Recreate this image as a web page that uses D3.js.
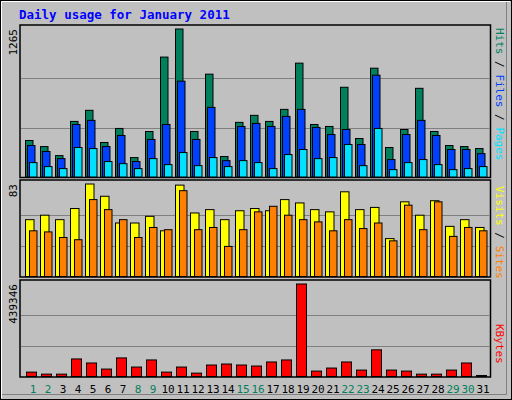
<!DOCTYPE html>
<html><head><meta charset="utf-8">
<script src="https://cdn.jsdelivr.net/npm/d3@7"></script>
<style>body{margin:0;background:#fff}svg{display:block}text{font-family:"DejaVu Sans Mono",monospace}</style>
</head><body><svg id="c" width="512" height="400"></svg>
<script>
const days = d3.range(1,32).map(String);
const weekend = ["1","2","8","9","15","16","22","23","29","30"];
const hits  = [312,260,183,475,570,295,415,166,389,1025,1265,389,879,175,467,527,475,578,973,449,432,767,329,930,252,406,758,389,269,260,243];
const files = [269,218,157,449,484,260,355,132,321,449,819,321,595,140,432,458,432,518,578,424,363,406,278,870,149,363,484,355,235,235,200];
const pages = [123,89,72,252,243,132,114,72,157,106,209,97,166,89,140,123,72,192,235,157,166,278,97,415,63,123,149,106,63,72,89];
const visits= [51,55,51,61,83,72,48,48,54,41,82,57,60,51,59,61,59,69,66,60,58,76,60,62,34,67,55,68,45,51,44];
const sites = [41,40,35,33,69,60,51,35,44,42,77,42,44,27,42,58,63,55,51,49,41,51,43,48,32,64,42,67,36,44,41];
const kbytes= [20844,11224,11224,83377,64136,35275,88187,44895,78567,20844,44895,16034,54516,59326,54516,49705,68946,78567,439346,25654,40085,68946,30465,126669,30465,25654,11224,11224,30465,64136,4810];
const axisMax = {top:1265, mid:83, bot:439346};

const svg = d3.select("#c");
svg.append("rect").attr("x",0).attr("y",0).attr("width",512).attr("height",400).attr("fill","#C0C0C0");
svg.append("rect").attr("x",0.5).attr("y",0.5).attr("width",511).attr("height",399).attr("fill","none").attr("stroke","#000");
svg.append("path").attr("d","M1.5,398V1.5H510").attr("stroke","#fff").attr("fill","none");
svg.append("path").attr("d","M506.5,2V394.5H2").attr("stroke","#808080").attr("fill","none");

svg.append("text").attr("x",19).attr("y",19).attr("fill","#0000FF").attr("font-weight","bold").attr("font-size",12.5).text("Daily usage for January 2011");

const x = d3.scaleBand().domain(days).range([20,485]).paddingInner(0);
const L = 20, R = 490.5;

function panel(top, bottom, max, label){
  svg.append("rect").attr("x",L).attr("y",top).attr("width",R-L).attr("height",bottom-top).attr("fill","#C0C0C0").attr("stroke","#000").attr("stroke-width",1.5);
  const y = d3.scaleLinear().domain([0,max]).range([bottom-0.5, top+4]);
  [1/3,2/3].forEach(f=>svg.append("line").attr("x1",L+1).attr("x2",R-1).attr("y1",Math.round(y(max*f))+0.5).attr("y2",Math.round(y(max*f))+0.5).attr("stroke","#808080"));
  svg.append("text").attr("transform",`translate(17,${top+4}) rotate(-90)`).attr("text-anchor","end").attr("font-size",11).attr("fill","#000").text(label);
  return y;
}
function bars(y, vals, off, w, color){
  svg.append("g").selectAll("rect").data(vals).join("rect")
    .attr("x",(d,i)=>x(days[i])+off).attr("width",w)
    .attr("y",d=>y(d)).attr("height",d=>Math.max(1,y(0)-y(d)))
    .attr("fill",color).attr("stroke","#000").attr("stroke-width",1);
}
const y1 = panel(25,177.5,axisMax.top,"1265");
bars(y1,hits,5.5,7.5,"#00805C");
bars(y1,files,7.5,7.5,"#0040FF");
bars(y1,pages,9.5,7.5,"#00E0FF");
const y2 = panel(180,277,axisMax.mid,"83");
bars(y2,visits,5.5,8.5,"#FFFF00");
bars(y2,sites,9.5,7.5,"#FF8000");
const y3 = panel(280,377,axisMax.bot,"439346");
bars(y3,kbytes,6.5,10,"#FF0000");

svg.append("g").selectAll("text").data(days).join("text")
  .attr("x",d=>x(d)+13).attr("y",393).attr("text-anchor","middle").attr("font-size",11)
  .attr("font-family","DejaVu Sans, sans-serif")
  .attr("fill",d=>weekend.includes(d)?"#00805C":"#000").text(d=>d);

function rlabel(yy, parts){
  const t = svg.append("text").attr("transform",`translate(496,${yy}) rotate(90)`).attr("font-size",11);
  parts.forEach(p=>t.append("tspan").attr("fill",p[1]).text(p[0]));
}
rlabel(28,[["Hits","#00805C"],[" / ","#000"],["Files","#0040FF"],[" / ","#000"],["Pages","#00E0FF"]]);
rlabel(186,[["Visits","#FFFF00"],[" / ","#000"],["Sites","#FF8000"]]);
rlabel(324,[["KBytes","#FF0000"]]);
</script></body></html>
